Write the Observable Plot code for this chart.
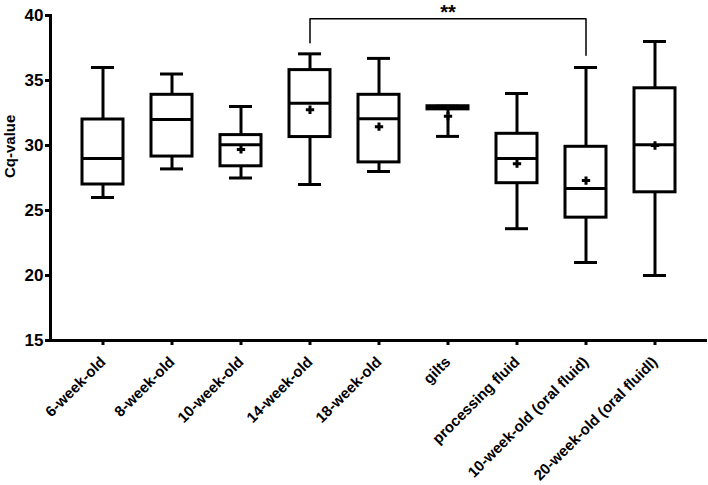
<!DOCTYPE html>
<html>
<head>
<meta charset="utf-8">
<script src="https://cdn.jsdelivr.net/npm/d3@7"></script>
<script src="https://cdn.jsdelivr.net/npm/@observablehq/plot@0.6"></script>
<style>
  html, body { margin: 0; padding: 0; background: white; }
  #chart svg { display: block; }
</style>
</head>
<body>
<div id="chart"></div>
<script>
const categories = ["6-week-old", "8-week-old", "10-week-old", "14-week-old", "18-week-old", "gilts", "processing fluid", "10-week-old (oral fluid)", "20-week-old (oral fluidl)"];
const mins    = [26.0, 28.2, 27.5, 27.0, 28.0, 30.7, 23.6, 21.0, 20.0];
const q1s     = [27.0, 29.15, 28.4, 30.65, 28.7, 32.78, 27.1, 24.45, 26.4];
const medians = [29.0, 32.0, 30.05, 33.25, 32.05, 32.9, 29.0, 26.7, 30.05];
const q3s     = [32.0, 33.9, 30.8, 35.8, 33.9, 33.02, 30.9, 29.9, 34.4];
const maxs    = [36.0, 35.5, 33.0, 37.05, 36.7, 33.02, 34.0, 36.0, 38.0];
const means   = [null, null, 29.7, 32.75, 31.45, 32.25, 28.6, 27.3, 30.0];
const yTicks  = [15, 20, 25, 30, 35, 40];
const bracketX = ["14-week-old", "14-week-old", "10-week-old (oral fluid)", "10-week-old (oral fluid)"];
const bracketY = [37.9, 39.75, 39.75, 36.95];
const sigLabel = "**";
const sigX = "gilts";
const sigY = 40.2;

const rows = categories.map((c, i) => ({cat: c, min: mins[i], q1: q1s[i], median: medians[i], q3: q3s[i], max: maxs[i], mean: means[i]}));
const bracket = bracketX.map((x, i) => ({x, y: bracketY[i]}));

const chart = Plot.plot({
  width: 708,
  height: 485,
  marginLeft: 50,
  marginRight: 1,
  marginTop: 15,
  marginBottom: 145,
  style: {fontFamily: "'Liberation Sans', Arial, sans-serif", background: "white", color: "black"},
  x: {domain: categories, paddingInner: 0.407, paddingOuter: 0.397, label: null},
  y: {domain: [15, 40], label: null},
  marks: [
    Plot.ruleX(rows, {x: "cat", y1: "min", y2: "max", stroke: "black", strokeWidth: 3}),
    Plot.tickY(rows, {x: "cat", y: "min", stroke: "black", strokeWidth: 3, inset: 9}),
    Plot.tickY(rows, {x: "cat", y: "max", stroke: "black", strokeWidth: 3, inset: 9}),
    Plot.barY(rows, {x: "cat", y1: "q1", y2: "q3", fill: "white", stroke: "black", strokeWidth: 3}),
    Plot.tickY(rows, {x: "cat", y: "median", stroke: "black", strokeWidth: 3}),
    Plot.dot(rows.filter(d => d.mean != null), {x: "cat", y: "mean", symbol: "plus", r: 2.8, stroke: "black", strokeWidth: 3}),
    Plot.line(bracket, {x: "x", y: "y", stroke: "black", strokeWidth: 1.5}),
    Plot.text([sigLabel], {x: () => sigX, y: () => sigY, text: d => d, fontSize: 20, fontWeight: "bold", fill: "black", letterSpacing: "2px"}),
    Plot.axisY({ticks: yTicks, tickSize: 5, tickPadding: 2, fontSize: 17, fontWeight: "bold", strokeWidth: 3, label: null}),
    Plot.axisX({tickSize: 5, tickPadding: 14, tickRotate: -45, fontSize: 15, fontWeight: "bold", strokeWidth: 3, label: null}),
    Plot.ruleY([15], {stroke: "black", strokeWidth: 3}),
    Plot.frame({anchor: "left", stroke: "black", strokeWidth: 3}),
    Plot.text(["Cq-value"], {frameAnchor: "left", dx: -40, rotate: -90, fontSize: 15, fontWeight: "bold", fill: "black"})
  ]
});
document.getElementById("chart").appendChild(chart);
</script>
</body>
</html>
